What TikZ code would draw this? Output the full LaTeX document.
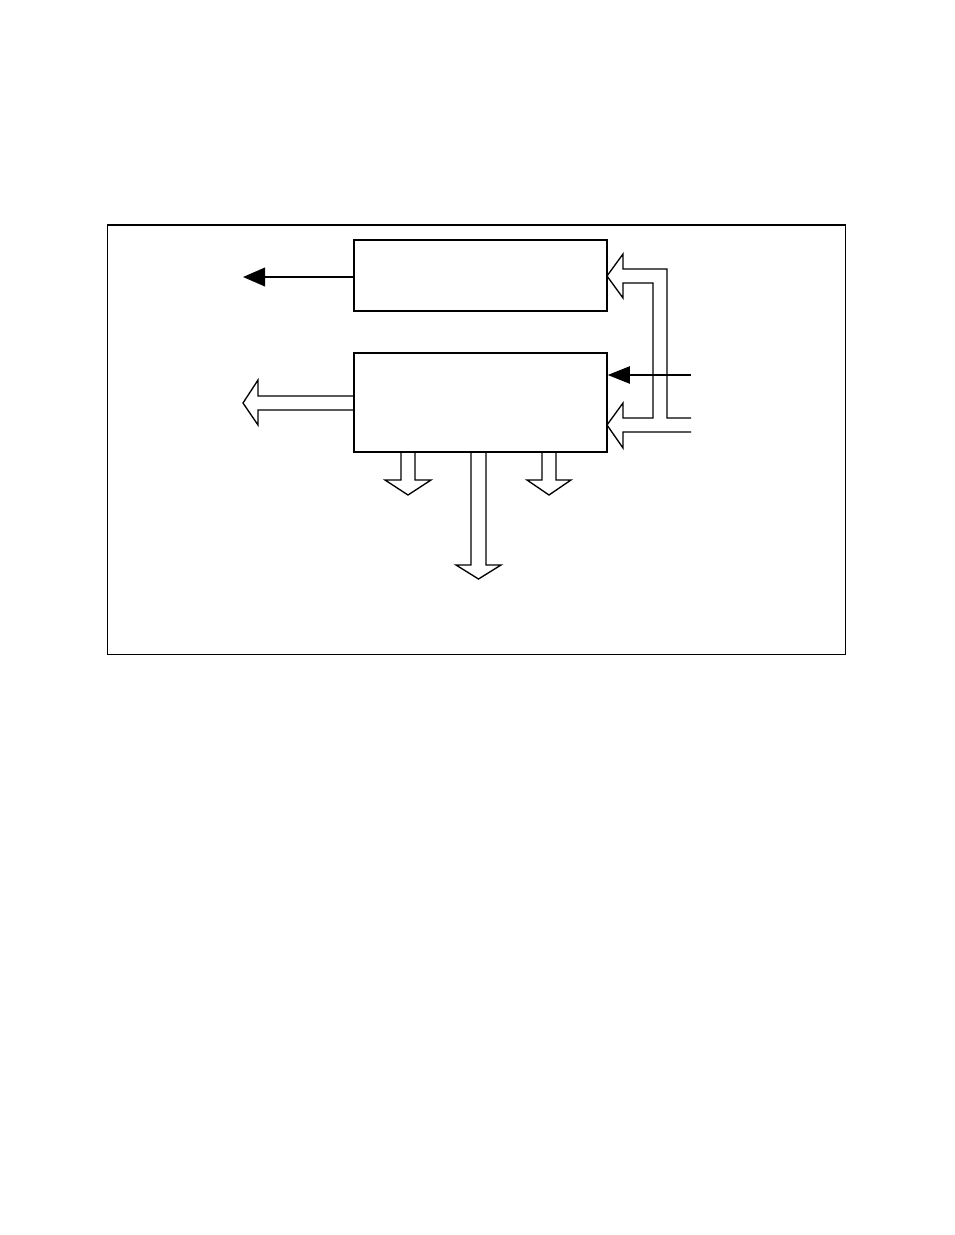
\documentclass[tikz,border=0pt]{standalone}
\usetikzlibrary{arrows.meta}
\begin{document}
\begin{tikzpicture}[x=0.75pt,y=-0.75pt,
  boxnode/.style={draw,line width=1.2pt,inner sep=0pt,minimum width=253*0.75pt,minimum height=#1},
  framebox/.style={draw,line width=0.9pt},
  hollow/.style={draw,line width=1pt,line join=miter},
  solidarrow/.style={line width=#1,-{Triangle[length=16.5pt,width=14pt]}},
  solidarrow/.default=1.2pt]
\useasboundingbox (0,0) rectangle (954,1235);
% outer frame
\draw[framebox] (107.5,225) rectangle (845.5,654.5);
% blocks
\node[boxnode=71*0.75pt] (topblk) at (480.5,275.5) {};
\node[boxnode=99*0.75pt] (botblk) at (480.5,402.5) {};
% top-left solid arrow
\coordinate (tlend) at (243,277);
\draw[solidarrow] (topblk.west |- tlend) -- (tlend);
% left hollow arrow
\draw[hollow] (354,396) -- (258,396) -- (258,380) -- (243,403) -- (258,425) -- (258,410) -- (354,410);
% down hollow arrows
\draw[hollow] (401,452) -- (401,480) -- (385,480) -- (408,495) -- (431,480) -- (415,480) -- (415,452);
\draw[hollow] (471,452) -- (471,565) -- (456,565) -- (478.5,579) -- (501,565) -- (486,565) -- (486,452);
\draw[hollow] (542,452) -- (542,480) -- (527,480) -- (549,495) -- (571,480) -- (556,480) -- (556,452);
% right bus with two hollow arrows
\draw[hollow] (691,418) -- (667,418) -- (667,269) -- (623,269) -- (623,254) -- (607,276) -- (623,298) -- (623,283)
  -- (653,283) -- (653,418) -- (623,418) -- (623,403) -- (607,425) -- (623,448) -- (623,432) -- (691,432);
% right solid arrow
\coordinate (rin) at (691,375);
\draw[solidarrow=0.8pt,-{Triangle[length=16.5pt,width=13pt]}] (rin) -- (botblk.east |- rin);
\end{tikzpicture}
\end{document}
